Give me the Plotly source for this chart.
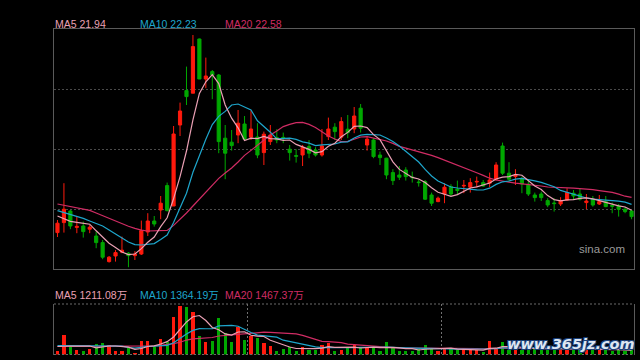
import plotly.graph_objects as go

day = list(range(90))

open_ = [20.82, 21.32, 21.90, 21.08, 21.15, 20.99, 20.65, 20.32, 19.37, 19.65,
         19.84, 19.79, 19.67, 19.75, 20.85, 21.40, 21.95, 23.17, 22.15, 26.20,
         27.92, 27.79, 30.50, 28.50, 28.87, 28.70, 25.54, 25.34, 25.70, 26.25,
         25.59, 25.60, 24.82, 25.37, 25.57, 25.58, 24.99, 24.67, 24.70, 25.12,
         24.95, 24.70, 25.62, 26.09, 25.59, 25.99, 26.00, 27.04, 25.20, 25.45,
         24.70, 24.54, 23.82, 23.70, 23.95, 23.60, 23.35, 23.37, 22.70, 22.37,
         22.75, 23.12, 22.99, 23.15, 23.09, 23.35, 23.32, 23.29, 23.49, 25.15,
         23.79, 23.62, 23.50, 23.24, 22.70, 22.75, 22.42, 22.30, 22.25, 22.45,
         22.79, 22.75, 22.32, 22.49, 22.25, 22.37, 22.17, 22.15, 21.99, 21.90]
close = [21.29, 21.99, 21.15, 21.13, 20.87, 21.09, 20.32, 19.59, 19.59, 19.82,
         19.94, 19.67, 19.75, 20.92, 21.40, 21.25, 22.29, 21.92, 25.75, 26.90,
         27.62, 30.12, 28.50, 28.65, 28.70, 25.37, 24.79, 25.17, 26.29, 25.49,
         26.00, 24.70, 25.74, 25.70, 25.45, 25.55, 24.82, 24.64, 25.09, 24.79,
         24.70, 25.15, 26.00, 25.87, 26.37, 25.82, 26.65, 26.04, 25.49, 24.62,
         24.57, 23.70, 23.42, 23.59, 23.62, 23.57, 23.32, 22.49, 22.29, 22.54,
         23.09, 22.75, 22.93, 23.18, 23.32, 23.38, 23.15, 23.45, 24.20, 23.79,
         23.49, 23.70, 23.25, 22.75, 22.57, 22.57, 22.20, 22.27, 22.42, 22.82,
         22.65, 22.49, 22.40, 22.20, 22.37, 22.12, 22.14, 21.99, 21.87, 21.62]
high = [21.45, 23.29, 21.95, 21.65, 21.37, 21.20, 20.87, 20.45, 19.65, 19.95,
        20.62, 19.85, 19.89, 21.42, 21.79, 21.65, 22.65, 23.32, 26.15, 27.32,
        29.12, 30.70, 30.52, 29.57, 28.95, 28.75, 26.20, 25.95, 26.95, 26.65,
        26.92, 26.29, 25.87, 26.20, 25.99, 25.82, 25.20, 24.99, 25.20, 25.45,
        25.09, 26.00, 26.57, 26.29, 26.59, 26.70, 27.10, 27.25, 25.62, 25.54,
        24.87, 24.56, 23.99, 24.15, 24.09, 23.87, 23.49, 23.45, 22.82, 22.62,
        23.29, 23.24, 23.42, 23.45, 23.54, 23.62, 23.45, 23.82, 24.34, 25.32,
        24.34, 23.99, 23.62, 23.45, 22.82, 22.87, 22.54, 22.54, 22.59, 23.04,
        22.95, 23.00, 22.75, 22.65, 22.70, 22.65, 22.32, 22.25, 22.09, 21.95]
low = [20.60, 20.82, 20.99, 20.79, 20.57, 20.79, 20.04, 19.49, 19.32, 19.37,
       19.79, 19.09, 19.45, 19.70, 20.65, 21.12, 21.49, 21.88, 22.15, 25.65,
       27.20, 27.79, 28.50, 28.04, 27.49, 24.79, 23.49, 24.92, 25.29, 25.45,
       25.45, 24.54, 24.20, 25.20, 25.29, 25.29, 24.42, 24.32, 24.15, 24.54,
       24.62, 24.62, 25.45, 25.45, 25.45, 25.54, 25.79, 25.82, 24.92, 24.54,
       24.20, 23.49, 23.20, 23.45, 23.42, 23.32, 23.12, 22.45, 22.15, 22.34,
       22.29, 22.65, 22.70, 22.79, 22.82, 23.09, 23.12, 23.09, 23.42, 23.70,
       23.37, 23.20, 22.79, 22.65, 22.37, 22.40, 22.09, 21.87, 22.15, 22.42,
       22.45, 22.42, 21.99, 22.12, 22.20, 22.09, 21.79, 21.62, 21.79, 21.49]

ma5 = [21.65, 21.50, 21.38, 21.33, 21.28, 21.24, 20.91, 20.60, 20.29, 20.08,
       19.85, 19.72, 19.75, 20.02, 20.34, 20.60, 21.12, 21.56, 22.52, 23.62,
       24.90, 26.46, 27.78, 28.36, 28.72, 28.27, 27.20, 26.54, 26.06, 25.42,
       25.54, 25.52, 25.63, 25.52, 25.51, 25.43, 25.45, 25.23, 25.11, 24.98,
       24.81, 24.87, 25.14, 25.29, 25.61, 25.83, 26.13, 26.15, 26.07, 25.72,
       25.47, 24.88, 24.36, 23.98, 23.78, 23.58, 23.50, 23.32, 23.06, 22.84,
       22.74, 22.63, 22.72, 22.90, 23.05, 23.11, 23.19, 23.30, 23.50, 23.59,
       23.62, 23.73, 23.69, 23.40, 23.15, 22.97, 22.67, 22.47, 22.41, 22.46,
       22.47, 22.53, 22.56, 22.51, 22.42, 22.32, 22.25, 22.16, 22.10, 21.94]
ma10 = [21.92, 21.83, 21.73, 21.63, 21.53, 21.40, 21.28, 21.15, 20.95, 20.73,
        20.55, 20.35, 20.22, 20.20, 20.25, 20.27, 20.47, 20.70, 21.32, 22.02,
        22.79, 23.84, 24.71, 25.49, 26.22, 26.63, 26.88, 27.20, 27.25, 27.11,
        26.95, 26.41, 26.13, 25.84, 25.51, 25.53, 25.54, 25.48, 25.36, 25.29,
        25.17, 25.21, 25.23, 25.25, 25.34, 25.36, 25.55, 25.69, 25.73, 25.71,
        25.70, 25.55, 25.38, 25.15, 24.88, 24.65, 24.35, 23.98, 23.65, 23.40,
        23.23, 23.10, 23.05, 23.01, 22.98, 22.96, 22.95, 23.04, 23.23, 23.36,
        23.40, 23.49, 23.53, 23.48, 23.41, 23.33, 23.23, 23.11, 22.93, 22.84,
        22.75, 22.63, 22.55, 22.49, 22.47, 22.43, 22.42, 22.39, 22.34, 22.23]
ma20 = [22.25, 22.19, 22.13, 22.06, 22.00, 21.93, 21.80, 21.66, 21.53, 21.40,
        21.28, 21.14, 21.03, 20.94, 20.90, 20.90, 20.90, 20.93, 21.18, 21.48,
        21.80, 22.15, 22.50, 22.87, 23.23, 23.53, 23.80, 24.05, 24.35, 24.68,
        24.93, 25.20, 25.45, 25.70, 25.90, 26.12, 26.23, 26.32, 26.33, 26.23,
        26.08, 25.85, 25.65, 25.50, 25.37, 25.38, 25.50, 25.60, 25.62, 25.55,
        25.49, 25.40, 25.28, 25.13, 25.04, 24.95, 24.88, 24.78, 24.68, 24.57,
        24.45, 24.33, 24.20, 24.08, 23.95, 23.81, 23.68, 23.54, 23.45, 23.38,
        23.34, 23.29, 23.26, 23.23, 23.19, 23.15, 23.10, 23.09, 23.09, 23.06,
        23.04, 23.02, 23.00, 22.97, 22.92, 22.87, 22.83, 22.74, 22.64, 22.58]

# volume in 万
volume = [1120, 5600, 2240, 1320, 1120, 1600, 3000, 3360, 2800, 1120,
          1120, 1880, 360, 3920, 3920, 2040, 4480, 3640, 10440, 13720,
          13240, 11840, 5320, 3440, 3920, 10160, 5960, 3640, 7840, 4200,
          5320, 4680, 3160, 2520, 1120, 1600, 2040, 1120, 2240, 1400,
          1400, 2800, 3160, 1120, 1400, 1760, 2800, 2040, 1760, 2040,
          920, 3440, 1760, 1120, 920, 920, 1600, 2800, 1600, 1120,
          1760, 1600, 1400, 1400, 1320, 1320, 640, 3920, 1600, 3640,
          1320, 1760, 1400, 1960, 1680, 1400, 1680, 1400, 1400, 1400,
          1400, 1680, 1400, 1680, 1510, 1260, 1120, 1260, 1120, 1290]
vol_ma5 = [2240, 2380, 2380, 2324, 2279, 2374, 1854, 2078, 2374, 2374,
           2279, 2055, 1456, 1680, 2240, 2425, 2946, 3601, 4906, 6866,
           9106, 10578, 10914, 9514, 7554, 6938, 5762, 5426, 6306, 6362,
           5393, 5135, 5040, 3976, 3360, 2615, 2089, 1680, 1624, 1680,
           1641, 1792, 2201, 1977, 1977, 2050, 2050, 1826, 1954, 2083,
           1915, 2044, 1988, 1859, 1635, 1635, 1266, 1473, 1568, 1607,
           1775, 1775, 1495, 1456, 1495, 1406, 1215, 1719, 1758, 2223,
           2223, 2447, 1943, 2016, 1624, 1641, 1624, 1624, 1512, 1456,
           1456, 1456, 1456, 1512, 1534, 1506, 1394, 1366, 1254, 1211.08]
vol_ma10 = [2520, 2520, 2520, 2464, 2408, 2380, 2352, 2352, 2352, 2327,
            2327, 1954, 1767, 2027, 2307, 2352, 2500, 2528, 3293, 4553,
            5765, 6762, 7258, 7210, 7210, 8022, 8170, 8170, 7910, 6958,
            6166, 5449, 5233, 5141, 4861, 4004, 3612, 3360, 2800, 2520,
            2128, 1940, 1940, 1800, 1828, 1845, 1921, 2013, 1966, 2030,
            1982, 2047, 1907, 1907, 1859, 1775, 1655, 1730, 1714, 1621,
            1705, 1520, 1484, 1512, 1551, 1590, 1495, 1607, 1607, 1859,
            1814, 1831, 1831, 1887, 1924, 1932, 2036, 1784, 1764, 1540,
            1548, 1540, 1540, 1512, 1495, 1481, 1425, 1411, 1383, 1364.19]
vol_ma20 = [2240, 2240, 2240, 2240, 2240, 2240, 2240, 2240, 2240, 2240,
            2240, 2240, 2240, 2296, 2380, 2436, 2576, 2744, 3024, 3441,
            4046, 4360, 4514, 4620, 4760, 5188, 5337, 5348, 5600, 5757,
            5964, 6104, 6244, 6177, 6037, 6014, 5891, 5765, 5356, 4740,
            4147, 3696, 3587, 3472, 3346, 2926, 2766, 2688, 2383, 2276,
            2055, 1994, 1924, 1854, 1845, 1812, 1789, 1873, 1840, 1826,
            1845, 1784, 1697, 1711, 1705, 1683, 1576, 1669, 1660, 1742,
            1761, 1677, 1658, 1700, 1739, 1761, 1767, 1697, 1686, 1700,
            1683, 1686, 1686, 1700, 1711, 1708, 1730, 1599, 1574, 1467.37]

RED = "#ff1a0d"
GREEN = "#00a800"
C5 = "#eaa0b4"
C10 = "#1ea6cc"
C20 = "#d02c64"
FRAME = "#5a5a5a"
GRID = "#4a4a4a"
FONT = "Liberation Sans, Arial, Noto Sans CJK SC, sans-serif"

W, H = 640, 360
def px_x(p):
    return p / W
def px_y(p):
    return 1 - p / H

fig = go.Figure()

fig.add_trace(go.Candlestick(
    x=day, open=open_, high=high, low=low, close=close,
    increasing=dict(line=dict(color=RED, width=1), fillcolor=RED),
    decreasing=dict(line=dict(color=GREEN, width=1), fillcolor=GREEN),
    whiskerwidth=0, xaxis="x", yaxis="y", hoverinfo="skip", showlegend=False))

for vals, col in [(ma20, C20), (ma10, C10), (ma5, C5)]:
    fig.add_trace(go.Scatter(x=day, y=vals, mode="lines", line=dict(color=col, width=1.2),
                             xaxis="x", yaxis="y", hoverinfo="skip", showlegend=False))

bar_colors = [RED if c >= o else GREEN for o, c in zip(open_, close)]
fig.add_trace(go.Bar(x=day, y=volume, marker=dict(color=bar_colors, line=dict(width=0)),
                     width=0.5, xaxis="x2", yaxis="y2", hoverinfo="skip", showlegend=False))
for vals, col in [(vol_ma20, C20), (vol_ma10, C10), (vol_ma5, C5)]:
    fig.add_trace(go.Scatter(x=day, y=vals, mode="lines", line=dict(color=col, width=1.2),
                             xaxis="x2", yaxis="y2", hoverinfo="skip", showlegend=False))

xdom = [px_x(54), px_x(634)]
xr = [-0.54, 89.38]
fig.update_layout(
    width=W, height=H, margin=dict(l=0, r=0, t=0, b=0),
    paper_bgcolor="#000000", plot_bgcolor="#000000",
    font=dict(family=FONT, size=11, color="#cccccc"),
    showlegend=False,
    xaxis=dict(domain=xdom, range=xr, showgrid=False, zeroline=False, showticklabels=False,
               ticks="", showline=True, mirror=True, linecolor=FRAME, linewidth=1,
               rangeslider=dict(visible=False), fixedrange=True),
    yaxis=dict(domain=[px_y(269), px_y(29)], range=[19.0, 31.0], tickvals=[22, 25, 28],
               showgrid=True, gridcolor=GRID, griddash="2px,2px", gridwidth=1,
               zeroline=False, showticklabels=False, ticks="", showline=True, mirror=True,
               linecolor=FRAME, linewidth=1, fixedrange=True),
    xaxis2=dict(domain=xdom, range=xr, anchor="y2", tickvals=[29.5, 59.5], showgrid=True,
                gridcolor="#707070", griddash="2px,2px", gridwidth=1, zeroline=False,
                showticklabels=False, ticks="", showline=False, fixedrange=True),
    yaxis2=dict(domain=[px_y(354.5), px_y(304)], range=[0, 14140], anchor="x2",
                showgrid=False, zeroline=False, showticklabels=False, ticks="",
                showline=True, mirror=True, linecolor=FRAME, linewidth=1, fixedrange=True),
    bargap=0,
)

for yy in (304, 354.5):
    fig.add_shape(type="line", xref="paper", yref="paper", x0=px_x(54), x1=px_x(634),
                  y0=px_y(yy), y1=px_y(yy), line=dict(color="#6a6a6a", width=1, dash="2px,2px"))

labels_top = [(53, "MA5 %.2f" % ma5[-1], C5), (138, "MA10 %.2f" % ma10[-1], C10),
              (223, "MA20 %.2f" % ma20[-1], C20)]
labels_vol = [(53, "MA5 %.2f万" % vol_ma5[-1], C5), (138, "MA10 %.2f万" % vol_ma10[-1], C10),
              (223, "MA20 %.2f万" % vol_ma20[-1], C20)]
for xx, txt, col in labels_top:
    fig.add_annotation(x=px_x(xx), y=px_y(24), xref="paper", yref="paper", text=txt,
                       showarrow=False, xanchor="left", yanchor="middle",
                       font=dict(color=col, size=10.5, family=FONT))
for xx, txt, col in labels_vol:
    fig.add_annotation(x=px_x(xx), y=px_y(295), xref="paper", yref="paper", text=txt,
                       showarrow=False, xanchor="left", yanchor="middle",
                       font=dict(color=col, size=10.5, family=FONT))

fig.add_annotation(x=px_x(602), y=px_y(249), xref="paper", yref="paper", text="sina.com",
                   showarrow=False, xanchor="center", yanchor="middle",
                   font=dict(color="#9a9a9a", size=11.5, family=FONT))

fig.add_annotation(x=px_x(637), y=px_y(344), xref="paper", yref="paper", text="<b><i>www.365jz.com</i></b>",
                   showarrow=False, xanchor="right", yanchor="middle",
                   font=dict(color="#dde6f2", size=14.5, family="DejaVu Sans, sans-serif",
                             shadow="1px 1px 0 #1b3f78, -1px -1px 0 #1b3f78, 1px -1px 0 #1b3f78, -1px 1px 0 #1b3f78"))

fig.write_html("out.html", post_script="document.body.style.margin='0';",
               config={"displayModeBar": False, "staticPlot": True})
